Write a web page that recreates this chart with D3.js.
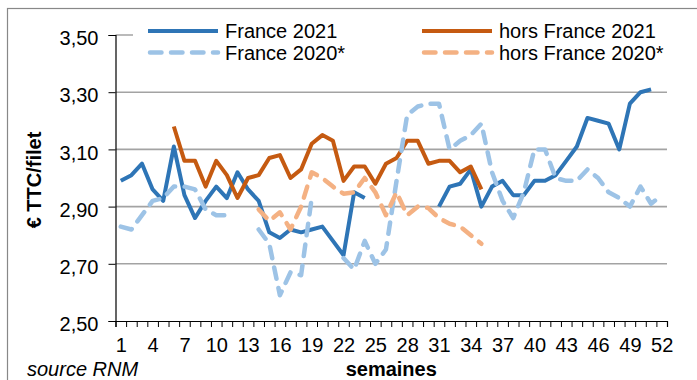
<!DOCTYPE html>
<html>
<head>
<meta charset="utf-8">
<script src="https://cdn.jsdelivr.net/npm/d3@7"></script>
<style>
  html, body { margin: 0; padding: 0; background: #fff; }
  svg { display: block; font-family: "Liberation Sans", Arial, sans-serif; }
</style>
</head>
<body>
<svg id="chart" width="697" height="380"></svg>
<script>
// Weekly retail price of a fillet (€ TTC), weeks 1 to 52
const weeks = d3.range(1, 53);
const weekTickLabels = d3.range(1, 53, 3);
const priceTicks = [2.5, 2.7, 2.9, 3.1, 3.3, 3.5];

const seriesNames = ["France 2021", "hors France 2021", "France 2020*", "hors France 2020*"];
const seriesColors = ["#2E75B6", "#C55A11", "#9DC3E6", "#F4B183"];
const seriesDashed = [false, false, true, true];

const france2021 = [2.99, 3.01, 3.05, 2.96, 2.92, 3.11, 2.94, 2.86, 2.92, 2.97,
  2.93, 3.02, 2.96, 2.92, 2.81, 2.79, 2.82, 2.81, 2.82, 2.83,
  2.78, 2.73, 2.95, 2.93, null, null, null, null, null, null,
  2.90, 2.97, 2.98, 3.03, 2.90, 2.97, 2.99, 2.94, 2.94, 2.99,
  2.99, 3.01, 3.06, 3.11, 3.21, 3.20, 3.19, 3.10, 3.26, 3.30,
  3.31, null];

const horsFrance2021 = [null, null, null, null, null, 3.18, 3.06, 3.06, 2.97, 3.06,
  3.01, 2.93, 3.00, 3.01, 3.07, 3.08, 3.00, 3.03, 3.12, 3.15,
  3.13, 2.99, 3.04, 3.04, 2.98, 3.05, 3.07, 3.13, 3.13, 3.05,
  3.06, 3.06, 3.02, 3.04, 2.96, null, null, null, null, null,
  null, null, null, null, null, null, null, null, null, null,
  null, null];

const france2020 = [2.83, 2.82, 2.87, 2.92, 2.93, 2.97, 2.97, 2.96, 2.89, 2.87,
  2.87, null, null, 2.82, 2.77, 2.59, 2.67, 2.66, 2.93, null,
  null, 2.72, 2.68, 2.78, 2.70, 2.75, 2.99, 3.22, 3.25, 3.26,
  3.26, 3.10, 3.13, 3.15, 3.19, 3.02, 2.92, 2.86, 2.95, 3.10,
  3.10, 3.00, 2.99, 2.99, 3.03, 3.00, 2.95, 2.93, 2.90, 2.97,
  2.91, 2.94];

const horsFrance2020 = [null, null, null, null, null, null, null, null, null, null,
  null, null, null, 2.89, 2.85, 2.88, 2.82, 2.90, 3.02, 3.00,
  2.97, 2.945, 2.95, 3.00, 2.95, 2.87, 2.95, 2.87, 2.90, 2.895,
  2.86, 2.84, 2.83, 2.80, 2.77, null, null, null, null, null,
  null, null, null, null, null, null, null, null, null, null,
  null, null];

const seriesValues = [france2021, horsFrance2021, france2020, horsFrance2020];

const svg = d3.select("#chart");
const font = 20;

// outer chart frame
svg.append("rect")
  .attr("x", 7.5).attr("y", 8.5)
  .attr("width", 720).attr("height", 420)
  .attr("fill", "none").attr("stroke", "#888").attr("stroke-width", 1.2);

const plot = { left: 115.5, right: 667, top: 35, bottom: 321 };

// weeks sit at the centres of equal bands between the axis ends
const x = d3.scaleLinear().domain([0.5, 52.5]).range([plot.left, plot.right]);
const y = d3.scaleLinear().domain([2.5, 3.5]).range([plot.bottom, plot.top]);

const fmt = d3.formatLocale({ decimal: ",", thousands: " ", grouping: [3], currency: ["", "€"] }).format(".2f");

// horizontal gridlines
svg.append("g")
  .selectAll("line")
  .data(priceTicks.filter(v => v > 2.5))
  .join("line")
  .attr("x1", plot.left).attr("x2", plot.right)
  .attr("y1", d => y(d)).attr("y2", d => y(d))
  .attr("stroke", "#a3a3a3").attr("stroke-width", 1.6);

// y axis
const yAxis = svg.append("g")
  .attr("transform", `translate(${plot.left},0)`)
  .call(d3.axisLeft(y).tickValues(priceTicks).tickFormat(fmt).tickSize(7).tickPadding(10));
yAxis.select(".domain").attr("stroke", "#000").attr("stroke-width", 1.2);
yAxis.selectAll(".tick line").attr("stroke", "#000");
yAxis.selectAll(".tick text")
  .attr("font-size", font).attr("fill", "#000")
  .attr("font-family", "Liberation Sans, Arial, sans-serif")
  .attr("dy", "0.48em");

// x axis: tick marks on band boundaries, labels every third week
const xAxis = svg.append("g")
  .attr("transform", `translate(0,${plot.bottom})`)
  .call(d3.axisBottom(x).tickValues(d3.range(0.5, 53, 1)).tickFormat("").tickSizeOuter(0).tickSize(6));
xAxis.select(".domain").attr("stroke", "#000").attr("stroke-width", 1.2);
xAxis.selectAll(".tick line").attr("stroke", "#000");

const xLabels = svg.append("g")
  .attr("transform", `translate(0,${plot.bottom})`)
  .call(d3.axisBottom(x).tickValues(weekTickLabels).tickFormat(d3.format("d")).tickSize(0).tickPadding(17));
xLabels.select(".domain").remove();
xLabels.selectAll(".tick text")
  .attr("font-size", font).attr("fill", "#000")
  .attr("font-family", "Liberation Sans, Arial, sans-serif");

// axis titles
svg.append("text")
  .attr("transform", `translate(41,${(plot.top + plot.bottom) / 2 + 2}) rotate(-90)`)
  .attr("text-anchor", "middle")
  .attr("font-size", font).attr("font-weight", "bold")
  .text("€ TTC/filet");

svg.append("text")
  .attr("x", (plot.left + plot.right) / 2).attr("y", 376)
  .attr("text-anchor", "middle")
  .attr("font-size", font).attr("font-weight", "bold")
  .text("semaines");

svg.append("text")
  .attr("x", 27).attr("y", 376)
  .attr("font-size", font).attr("font-style", "italic")
  .text("source RNM");

// series lines
const line = d3.line()
  .defined(d => d.v != null)
  .x(d => x(d.w))
  .y(d => y(d.v));

seriesValues.forEach((vals, i) => {
  const pts = weeks.map((w, k) => ({ w, v: vals[k] }));
  svg.append("path")
    .datum(pts)
    .attr("d", line)
    .attr("fill", "none")
    .attr("stroke", seriesColors[i])
    .attr("stroke-width", seriesDashed[i] ? 4.5 : 4)
    .attr("stroke-linejoin", "round")
    .attr("stroke-linecap", seriesDashed[i] ? "round" : "butt")
    .attr("stroke-dasharray", seriesDashed[i] ? "11.5 9.5" : null);
});

// legend, two columns by two rows
const legend = svg.append("g");
legend.append("rect")
  .attr("x", 133).attr("y", 20).attr("width", 545).attr("height", 44)
  .attr("fill", "#fff");
const legendCols = [148, 422];
const legendRows = [31, 52.5];
seriesNames.forEach((name, i) => {
  const lx = legendCols[i % 2];
  const ly = legendRows[Math.floor(i / 2)];
  legend.append("line")
    .attr("x1", lx + (seriesDashed[i] ? 2 : 0)).attr("x2", lx + 70)
    .attr("y1", ly).attr("y2", ly)
    .attr("stroke", seriesColors[i])
    .attr("stroke-width", seriesDashed[i] ? 4.5 : 4)
    .attr("stroke-linecap", seriesDashed[i] ? "round" : "butt")
    .attr("stroke-dasharray", seriesDashed[i] ? "11.5 9.5" : null);
  legend.append("text")
    .attr("x", lx + 77).attr("y", ly + 7)
    .attr("font-size", font)
    .text(name);
});
</script>
</body>
</html>
